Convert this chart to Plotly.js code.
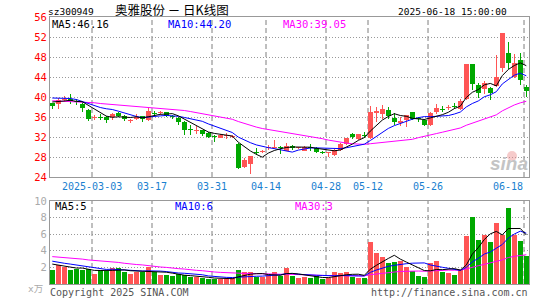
<!DOCTYPE html>
<html><head><meta charset="utf-8">
<script src="https://cdn.plot.ly/plotly-3.0.1.min.js"></script>
<style>html,body{margin:0;padding:0;background:#fff}#chart{width:545px;height:300px}</style>
</head><body><div id="chart"></div>
<script>
// ---------------- data ----------------
const dates = ['02-20','02-21','02-24','02-25','02-26','02-27','02-28','03-03','03-04','03-05',
'03-06','03-07','03-10','03-11','03-12','03-13','03-14','03-17','03-18','03-19',
'03-20','03-21','03-24','03-25','03-26','03-27','03-28','03-31','04-01','04-02',
'04-03','04-07','04-08','04-09','04-10','04-11','04-14','04-15','04-16','04-17',
'04-18','04-21','04-22','04-23','04-24','04-25','04-28','04-29','04-30','05-06',
'05-07','05-08','05-09','05-12','05-13','05-14','05-15','05-16','05-19','05-20',
'05-21','05-22','05-23','05-26','05-27','05-28','05-29','05-30','06-03','06-04',
'06-05','06-06','06-09','06-10','06-11','06-12','06-13','06-16','06-17','06-18'];

const openP = [38.75,38.6,39.4,39.6,39.3,38.7,37.5,35.9,36.1,36.1,
36.1,36.8,36.3,35.2,35.7,36.2,35.4,36.8,36.9,37.0,
36.3,35.9,35.1,33.6,33.2,33.4,32.9,32.2,31.9,32.2,
32.1,30.7,26.1,26.7,29.0,29.1,29.8,29.9,30.1,29.3,
30.2,29.8,29.3,30.0,29.9,29.0,28.8,28.4,29.5,30.7,
32.6,31.6,32.5,31.9,36.9,36.6,37.4,35.9,34.9,35.4,
37.0,35.9,35.4,34.4,37.0,37.6,37.9,38.3,37.7,39.6,
46.6,42.4,41.7,41.8,42.3,45.9,48.9,44.1,47.4,42.0];

const highP = [38.9,39.8,40.2,40.6,39.7,39.0,37.6,36.4,36.6,36.3,
36.9,37.0,36.4,35.6,36.6,36.3,37.9,37.2,37.3,37.1,
36.5,36.0,35.2,34.5,34.2,33.5,33.0,32.4,32.6,32.9,
32.4,30.8,27.8,28.3,29.9,29.5,30.4,31.4,30.3,30.9,
30.4,30.1,30.3,30.7,30.0,29.2,29.1,29.6,30.8,31.9,
32.9,32.7,33.0,38.2,38.1,38.4,38.0,36.8,36.0,36.5,
37.1,36.1,35.6,37.0,38.6,38.2,38.4,38.8,39.6,46.6,
46.7,42.8,43.2,42.1,48.4,52.9,51.1,48.6,48.8,42.4];

const lowP = [37.7,37.7,39.0,38.7,38.5,37.1,35.3,35.4,35.5,34.9,
35.5,36.0,35.2,34.8,35.4,35.0,35.2,36.2,36.5,36.1,
35.6,34.4,32.5,32.5,32.7,32.3,31.9,31.1,31.8,31.6,
31.8,25.6,25.8,24.6,28.4,28.9,29.4,29.6,28.6,29.2,
29.5,29.6,29.2,29.3,28.8,28.7,28.0,28.2,29.3,30.5,
31.7,31.4,31.8,31.7,35.1,35.6,35.7,34.5,34.3,34.1,
35.5,35.1,34.2,34.2,36.7,37.0,37.4,37.6,37.5,39.4,
41.4,39.8,40.6,39.5,42.0,45.1,45.7,43.9,42.4,40.0];

const closeP = [38.2,39.5,39.5,39.3,39.1,37.9,35.7,36.0,35.9,35.4,
36.7,36.2,35.7,35.5,36.1,35.6,37.3,36.7,37.0,36.3,
36.1,35.1,33.4,33.4,33.4,32.7,32.1,32.0,32.4,32.3,
32.2,25.9,27.5,28.2,28.9,29.3,30.0,30.1,29.9,30.2,
29.8,29.9,30.1,29.8,29.1,28.9,28.9,29.5,30.6,31.9,
32.0,32.6,32.3,37.1,37.2,37.7,36.2,35.1,35.3,36.4,
35.7,35.7,34.4,36.9,37.9,37.4,38.1,38.1,39.3,46.6,
42.6,40.8,42.8,40.8,44.1,52.9,46.9,46.8,43.4,41.3];

// volume, 万
const volume = [1.7,2.35,2.05,1.7,1.8,1.7,1.8,1.2,1.65,1.6,
1.95,1.9,1.4,1.15,1.5,1.5,2.0,1.5,1.05,1.05,
0.95,1.15,1.1,0.8,0.85,0.7,0.6,0.65,0.6,0.6,
0.75,1.7,1.45,1.4,0.9,0.85,1.1,1.45,0.95,1.9,
1.0,0.75,0.83,0.75,0.95,0.65,0.67,1.45,1.35,1.45,
0.9,0.75,0.75,5.05,3.77,3.25,2.58,2.66,2.74,2.0,
1.54,0.99,0.83,2.58,2.77,1.46,1.38,1.07,1.7,5.8,
8.05,5.3,5.95,5.1,7.3,5.95,9.1,5.95,5.15,3.4];

// moving-average values at the left edge (their windows start before the visible days)
const ma5Head  = [39.0,39.05,39.2,39.35];
const ma10Head = [39.8,39.8,39.8,39.7,39.5,39.1,38.6,38.2,37.9];
const ma30Head = [39.25,39.2,39.2,39.15,39.1,39.05,38.95,38.85,38.7,38.6,38.5,38.4,38.3,38.2,38.1,38.0,37.95,37.9,37.8,37.7,37.6,37.5,37.3,37.1,36.9,36.7,36.45,36.2,35.95];
const vma5Head  = [2.4,2.3,2.2,2.1];
const vma10Head = [2.75,2.6,2.5,2.4,2.3,2.2,2.1,2.0,1.9];
const vma30Head = [3.3,3.25,3.2,3.1,3.05,3.0,2.9,2.85,2.8,2.7,2.65,2.6,2.5,2.4,2.35,2.3,2.2,2.1,2.05,2.0,1.9,1.85,1.8,1.7,1.65,1.6,1.5,1.45,1.4];

const tickDates  = ['03-03','03-17','03-31','04-14','04-28','05-12','05-26','06-18'];
const tickLabels = ['2025-03-03','03-17','03-31','04-14','04-28','05-12','05-26','06-18'];
const priceTicks = [24,28,32,36,40,44,48,52,56];
const volTicks   = [2,4,6,8,10];
const maLabels   = ['MA5:46.16','MA10:44.20','MA30:39.05'];
const vmaLabels  = ['MA5:5','MA10:6','MA30:3'];
const code = 'sz300949';
const titleText = '奥雅股份 － 日K线图';
const stamp = '2025-06-18 15:00:00';

// ---------------- drawing ----------------
const N = closeP.length;
const xs = closeP.map((_, i) => i + 1);
function movAvg(arr, n, head) {
  return arr.map((v, i) => {
    if (i < n - 1) return head[i];
    let s = 0; for (let k = i - n + 1; k <= i; k++) s += arr[k];
    return s / n;
  });
}
const RED = '#ff5555', GREEN = '#00a800';
const up = closeP.map((c, i) => c >= openP[i]);
const cols = up.map(u => u ? RED : GREEN);

const W = 545, H = 300, ML = 50, MR = 16, MT = 17, MB = 16;
const PW = W - ML - MR, PH = H - MT - MB;
const px = p => (p - ML) / PW;
const py = q => (H - MB - q) / PH;
const priceDomain = [py(177), 1];
const volDomain = [0, py(201)];
const XR = [0.62, 80.45];
const MONO = 'DejaVu Sans Mono, Liberation Mono, monospace';

const traces = [
  { type: 'bar', x: xs, base: lowP, y: highP.map((h, i) => h - lowP[i]), width: 0.17,
    marker: { color: cols }, xaxis: 'x', yaxis: 'y', hoverinfo: 'skip' },
  { type: 'bar', x: xs, base: openP.map((o, i) => Math.min(o, closeP[i])),
    y: openP.map((o, i) => Math.max(Math.abs(closeP[i] - o), 0.2)), width: 0.82,
    marker: { color: cols }, xaxis: 'x', yaxis: 'y', hoverinfo: 'skip' },
  { type: 'scatter', mode: 'lines', x: xs, y: movAvg(closeP, 30, ma30Head), line: { color: '#ff00ff', width: 1 }, xaxis: 'x', yaxis: 'y', hoverinfo: 'skip' },
  { type: 'scatter', mode: 'lines', x: xs, y: movAvg(closeP, 10, ma10Head), line: { color: '#0000ff', width: 1 }, xaxis: 'x', yaxis: 'y', hoverinfo: 'skip' },
  { type: 'scatter', mode: 'lines', x: xs, y: movAvg(closeP, 5, ma5Head), line: { color: '#000000', width: 1 }, xaxis: 'x', yaxis: 'y', hoverinfo: 'skip' },
  { type: 'bar', x: xs, y: volume, width: 0.82, marker: { color: cols }, xaxis: 'x2', yaxis: 'y2', hoverinfo: 'skip' },
  { type: 'scatter', mode: 'lines', x: xs, y: movAvg(volume, 30, vma30Head), line: { color: '#ff00ff', width: 1 }, xaxis: 'x2', yaxis: 'y2', hoverinfo: 'skip' },
  { type: 'scatter', mode: 'lines', x: xs, y: movAvg(volume, 10, vma10Head), line: { color: '#0000ff', width: 1 }, xaxis: 'x2', yaxis: 'y2', hoverinfo: 'skip' },
  { type: 'scatter', mode: 'lines', x: xs, y: movAvg(volume, 5, vma5Head), line: { color: '#000000', width: 1 }, xaxis: 'x2', yaxis: 'y2', hoverinfo: 'skip' }
];

const tickIdx = tickDates.map(d => dates.indexOf(d) + 1);
const shapes = [];
tickIdx.forEach(i => {
  shapes.push({ type: 'line', xref: 'x', yref: 'y', x0: i - 0.38, x1: i - 0.38, y0: 24, y1: 56, line: { color: '#aaaaaa', width: 1.5, dash: '5px,3px' }, layer: 'below' });
  shapes.push({ type: 'line', xref: 'x2', yref: 'y2', x0: i - 0.38, x1: i - 0.38, y0: 0, y1: 10, line: { color: '#aaaaaa', width: 1.5, dash: '5px,3px' }, layer: 'below' });
});

const ann = [];
function txt(text, x, y, xanchor, color, size, family) {
  ann.push({ text, x: px(x), y: py(y), xref: 'paper', yref: 'paper', xanchor, yanchor: 'middle',
    showarrow: false, font: { family: family || MONO, size, color }, borderpad: 0 });
}
txt(code, 47, 11.5, 'left', '#000', 9.5);
txt(titleText, 114, 10, 'left', '#000', 12.5, 'Noto Sans CJK SC, sans-serif');
txt(stamp, 508, 11.5, 'right', '#000', 9.5);
txt(maLabels[0], 51, 24, 'left', '#000', 10.5);
txt(maLabels[1], 166.5, 24, 'left', '#0000ff', 10.5);
txt(maLabels[2], 281.5, 24, 'left', '#ff00ff', 10.5);
txt(vmaLabels[0], 53.5, 206, 'left', '#000', 10.5);
txt(vmaLabels[1], 174, 206, 'left', '#0000ff', 10.5);
txt(vmaLabels[2], 293.5, 206, 'left', '#ff00ff', 10.5);
txt('x万', 27, 288, 'left', '#aaaaaa', 9.5, 'DejaVu Sans Mono, Noto Sans CJK SC, monospace');
txt('Copyright 2025 SINA.COM', 49, 292, 'left', '#555555', 10);
txt('http://finance.sina.com.cn', 529, 292, 'right', '#555555', 10);
tickIdx.forEach((i, k) => {
  const last = k === tickIdx.length - 1;
  ann.push({ text: tickLabels[k], x: last ? px(523.5) : i - 0.38, xref: last ? 'paper' : 'x',
    y: py(186), yref: 'paper', xanchor: last ? 'right' : 'center', yanchor: 'middle',
    showarrow: false, font: { family: MONO, size: 10, color: '#1a7fd0' }, borderpad: 0 });
});
// sina watermark
ann.push({ text: '<b><i>sina</i></b>', x: px(530), y: py(163), xref: 'paper', yref: 'paper', xanchor: 'right', yanchor: 'middle', showarrow: false, font: { family: 'Liberation Sans, Arial, sans-serif', size: 19, color: '#c4c4c4' } });
shapes.push({ type: 'circle', xref: 'paper', yref: 'paper', x0: px(507), x1: px(517), y0: py(161), y1: py(151), fillcolor: 'rgba(235,140,140,0.45)', line: { width: 0 } });

const axBase = { showline: true, mirror: true, linecolor: '#999999', linewidth: 1, zeroline: false, fixedrange: true };
const layout = {
  width: W, height: H, margin: { l: ML, r: MR, t: MT, b: MB, pad: 0 },
  paper_bgcolor: '#ffffff', plot_bgcolor: '#ffffff', showlegend: false, barmode: 'overlay', bargap: 0,
  hovermode: false,
  xaxis: Object.assign({}, axBase, { domain: [0, 1], range: XR, anchor: 'y', showgrid: false, showticklabels: false, ticks: '' }),
  xaxis2: Object.assign({}, axBase, { domain: [0, 1], range: XR, anchor: 'y2', showgrid: false, showticklabels: false, ticks: '' }),
  yaxis: Object.assign({}, axBase, { domain: priceDomain, range: [24, 56], anchor: 'x', tickmode: 'array', tickvals: priceTicks,
    ticktext: priceTicks.map(String), ticks: '', showgrid: true, gridcolor: '#999999', gridwidth: 1, griddash: '1px,2px',
    tickfont: { family: MONO, size: 10.5, color: '#ff0000' } }),
  yaxis2: Object.assign({}, axBase, { domain: volDomain, range: [0, 10], anchor: 'x2', tickmode: 'array', tickvals: volTicks,
    ticktext: volTicks.map(String), ticks: '', showgrid: true, gridcolor: '#999999', gridwidth: 1, griddash: '1px,2px',
    tickfont: { family: MONO, size: 10.5, color: '#aaaaaa' } }),
  shapes, annotations: ann
};
Plotly.newPlot('chart', traces, layout, { staticPlot: true, displayModeBar: false });
</script></body></html>
